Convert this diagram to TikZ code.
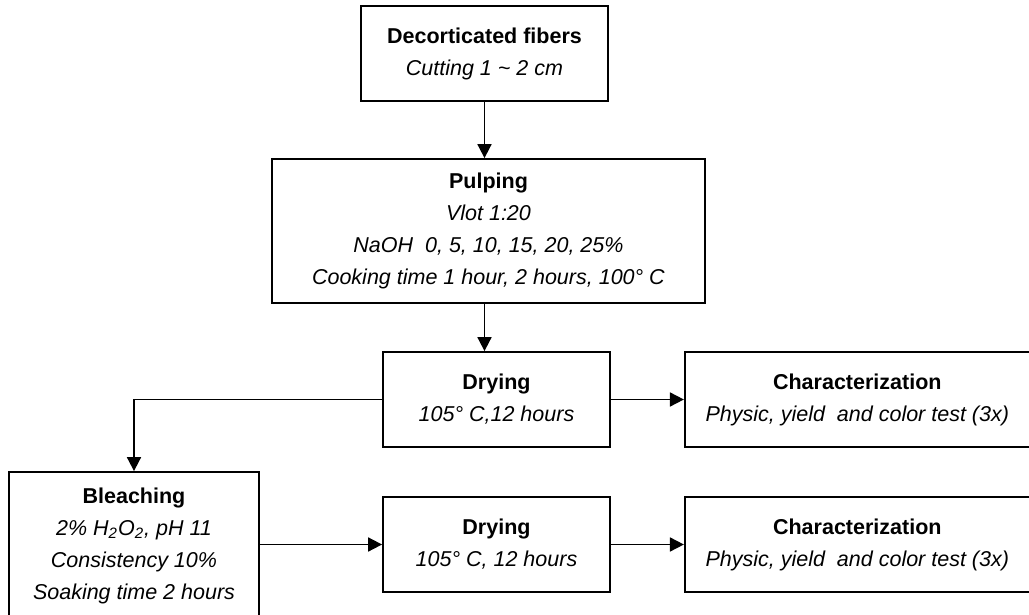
\documentclass[tikz,border=0pt]{standalone}
\usepackage{fontspec}
\setmainfont{Liberation Sans}
\usetikzlibrary{arrows.meta,positioning}

\begin{document}
\begin{tikzpicture}[x=0.5pt, y=-0.5pt, node distance=36.5pt, every node/.style={font=\fontsize{10.75}{16}\selectfont}, box/.style={draw, line width=0.9pt, align=center, inner sep=0pt}, flow/.style={-{Triangle[length=7pt,width=7pt]}, line width=0.9pt}]
\useasboundingbox (0,0) rectangle (1029,615);
\node[box, minimum width=123.5pt, minimum height=47.5pt] (dec) at (484.5,53.5) {\textbf{Decorticated fibers}\\ \textit{Cutting 1 \textasciitilde\ 2 cm}};
\node[box, minimum width=216.5pt, minimum height=72pt] (pulp) at (488.5,231) {\textbf{Pulping}\\ \textit{Vlot 1:20}\\ \textit{NaOH\ \ 0, 5, 10, 15, 20, 25\%}\\ \textit{Cooking time 1 hour, 2 hours, 100° C}};
\node[box, minimum width=113.5pt, minimum height=47.5pt] (dry1) at (496.5,399.5) {\textbf{Drying}\\ \textit{105° C,12 hours}};
\node[box, minimum width=172.5pt, minimum height=47.5pt, right=of dry1] (char1) {\textbf{Characterization}\\ \textit{Physic, yield\ \ and color test (3x)}};
% bleaching box runs past the lower edge
\node[box, minimum width=125pt, minimum height=74pt] (bleach) at (134,546) {\textbf{Bleaching}\\ \textit{2\% H\textsubscript{2}O\textsubscript{2}, pH 11}\\ \textit{Consistency 10\%}\\ \textit{Soaking time 2 hours}};
\node[box, minimum width=113.5pt, minimum height=47.5pt] (dry2) at (496.5,544.5) {\textbf{Drying}\\ \textit{105° C, 12 hours}};
\node[box, minimum width=172.5pt, minimum height=47.5pt, right=of dry2] (char2) {\textbf{Characterization}\\ \textit{Physic, yield\ \ and color test (3x)}};
\draw[flow] (dec.south) -- (dec.south |- pulp.north);
\draw[flow] (dec.south |- pulp.south) -- (dec.south |- dry1.north);
\draw[flow] (dry1) -- (char1);
\draw[flow] (dry1.west) -| (bleach.north);
\draw[flow] (bleach.east |- dry2.west) -- (dry2.west);
\draw[flow] (dry2) -- (char2);
\end{tikzpicture}
\end{document}
